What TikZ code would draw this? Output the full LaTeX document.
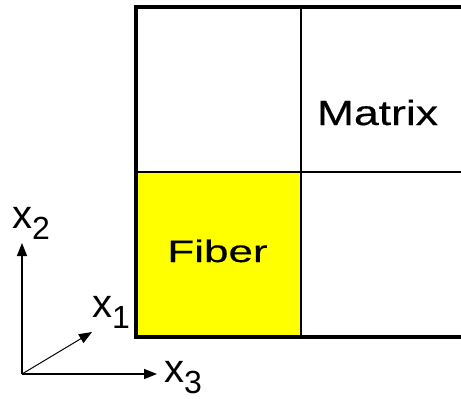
\documentclass[tikz,border=0pt]{standalone}
\usepackage{fontspec}
\setmainfont{Liberation Sans}
\newfontfamily\cellfont[FakeBold=0.4]{Liberation Sans}
\usepackage{xcolor}
\usetikzlibrary{arrows.meta}

\definecolor{fiberyellow}{RGB}{255,255,0}

\tikzset{
	outerline/.style={line width=4pt, line join=miter},
	innerline/.style={line width=2pt},
	axisarrow/.style={line width=1.5pt, -{Triangle[length=13pt, width=10pt]}},
	axislabel/.style={anchor=base west, inner sep=0pt, font=\fontsize{40pt}{40pt}\selectfont},
	celltext/.style={anchor=base, inner sep=0pt, font=\cellfont}
}
\newcommand{\axsub}[1]{{\fontsize{32pt}{32pt}\selectfont\raisebox{-11pt}{#1}}}

\begin{document}
\begin{tikzpicture}[x=1pt, y=-1pt]
	\useasboundingbox (0,0) rectangle (461,399);
	\clip (0,0) rectangle (461,399);
	% Cells and grid lines:
	\fill[fiberyellow] (136,172) rectangle (301,336.5);
	\draw[innerline] (301,6.5) -- (301,336.5);
	\draw[innerline] (136,172) -- (461,172);
	\draw[outerline] (461,6.5) -- (136,6.5) -- (136,336.5) -- (461,336.5);
	\node[celltext](fiber) at (217.5,262){\fontsize{31pt}{31pt}\selectfont\scalebox{1.42}[1]{Fiber}};
	\node[celltext](matrix) at (377.5,125){\fontsize{35pt}{35pt}\selectfont\scalebox{1.27}[1]{Matrix}};
	% Axes:
	\coordinate (O) at (22,374);
	\coordinate (tiptwo) at (22,243);
	\coordinate (tipthree) at (157,374);
	\coordinate (tipone) at (92,332);
	\draw[axisarrow] (O) -- (tiptwo);
	\draw[axisarrow] (O) -- (tipthree);
	\draw[axisarrow, line width=1pt] (O) -- (tipone);
	\node[axislabel](labeltwo) at (12,228){x\axsub{2}};
	\node[axislabel](labelone) at (92,317){x\axsub{1}};
	\node[axislabel](labelthree) at (164,382){x\axsub{3}};
\end{tikzpicture}
\end{document}
